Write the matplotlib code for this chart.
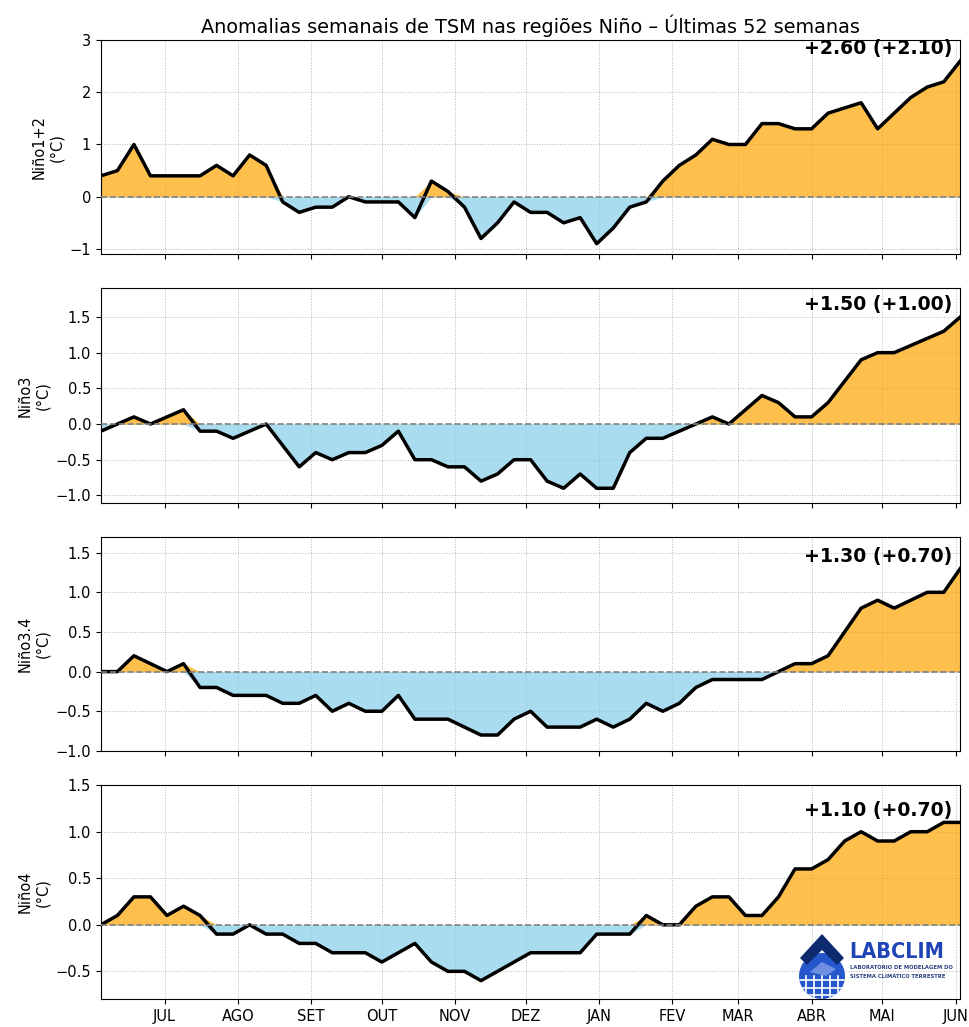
import numpy as np
import pandas as pd
import matplotlib
matplotlib.use("Agg")
import matplotlib.pyplot as plt
import matplotlib.dates as mdates
from matplotlib.ticker import FuncFormatter
from matplotlib.patches import Circle, Polygon

# Weekly SST anomalies (°C) for the Niño regions, last 52 weeks
weeks = pd.date_range("2022-06-04", periods=53, freq="7D")

nino12 = [0.4, 0.5, 1.0, 0.4, 0.4, 0.4, 0.4, 0.6, 0.4, 0.8,
          0.6, -0.1, -0.3, -0.2, -0.2, 0.0, -0.1, -0.1, -0.1, -0.4,
          0.3, 0.1, -0.2, -0.8, -0.5, -0.1, -0.3, -0.3, -0.5, -0.4,
          -0.9, -0.6, -0.2, -0.1, 0.3, 0.6, 0.8, 1.1, 1.0, 1.0,
          1.4, 1.4, 1.3, 1.3, 1.6, 1.7, 1.8, 1.3, 1.6, 1.9,
          2.1, 2.2, 2.6]
nino3 = [-0.1, 0.0, 0.1, 0.0, 0.1, 0.2, -0.1, -0.1, -0.2, -0.1,
         0.0, -0.3, -0.6, -0.4, -0.5, -0.4, -0.4, -0.3, -0.1, -0.5,
         -0.5, -0.6, -0.6, -0.8, -0.7, -0.5, -0.5, -0.8, -0.9, -0.7,
         -0.9, -0.9, -0.4, -0.2, -0.2, -0.1, 0.0, 0.1, 0.0, 0.2,
         0.4, 0.3, 0.1, 0.1, 0.3, 0.6, 0.9, 1.0, 1.0, 1.1,
         1.2, 1.3, 1.5]
nino34 = [0.0, 0.0, 0.2, 0.1, 0.0, 0.1, -0.2, -0.2, -0.3, -0.3,
          -0.3, -0.4, -0.4, -0.3, -0.5, -0.4, -0.5, -0.5, -0.3, -0.6,
          -0.6, -0.6, -0.7, -0.8, -0.8, -0.6, -0.5, -0.7, -0.7, -0.7,
          -0.6, -0.7, -0.6, -0.4, -0.5, -0.4, -0.2, -0.1, -0.1, -0.1,
          -0.1, 0.0, 0.1, 0.1, 0.2, 0.5, 0.8, 0.9, 0.8, 0.9,
          1.0, 1.0, 1.3]
nino4 = [0.0, 0.1, 0.3, 0.3, 0.1, 0.2, 0.1, -0.1, -0.1, 0.0,
         -0.1, -0.1, -0.2, -0.2, -0.3, -0.3, -0.3, -0.4, -0.3, -0.2,
         -0.4, -0.5, -0.5, -0.6, -0.5, -0.4, -0.3, -0.3, -0.3, -0.3,
         -0.1, -0.1, -0.1, 0.1, 0.0, 0.0, 0.2, 0.3, 0.3, 0.1,
         0.1, 0.3, 0.6, 0.6, 0.7, 0.9, 1.0, 0.9, 0.9, 1.0,
         1.0, 1.1, 1.1]

region_names = ["Niño1+2", "Niño3", "Niño3.4", "Niño4"]
series = [nino12, nino3, nino34, nino4]
reference_values = [2.10, 1.00, 0.70, 0.70]
month_labels = ["JAN", "FEV", "MAR", "ABR", "MAI", "JUN",
                "JUL", "AGO", "SET", "OUT", "NOV", "DEZ"]

title = "Anomalias semanais de TSM nas regiões Niño – Últimas 52 semanas"

fig = plt.figure(figsize=(9.7, 10.27), dpi=100)
axes = fig.subplots(4, 1, sharex=True)
fig.subplots_adjust(left=0.104, right=0.990, top=0.961, bottom=0.027, hspace=0.16)

for ax, name, vals, ref in zip(axes, region_names, series, reference_values):
    v = np.asarray(vals, dtype=float)
    ax.fill_between(weeks, 0, np.maximum(v, 0), color="orange", alpha=0.7, lw=0)
    ax.fill_between(weeks, 0, np.minimum(v, 0), color="skyblue", alpha=0.7, lw=0)
    ax.plot(weeks, v, color="black", lw=2.5, zorder=3)
    ax.axhline(0, color="gray", ls="--", lw=1.2, zorder=4)
    ax.grid(True, ls=":", lw=0.7, color="#b5b5b5")
    ax.set_axisbelow(True)
    ax.set_ylim(v.min() - 0.2, v.max() + 0.4)
    ax.set_xlim(weeks[0], weeks[-1])
    ax.set_ylabel(f"{name}\n(°C)", fontsize=10.5, labelpad=4)
    ax.tick_params(labelsize=10.5)
    ax.annotate(f"{v[-1]:+.2f} ({ref:+.2f})", xy=(weeks[-1], v[-1]),
                xytext=(-6, 2), textcoords="offset points",
                ha="right", va="bottom", fontsize=13.6, fontweight="bold", zorder=5)

axes[-1].xaxis.set_major_locator(mdates.MonthLocator())
axes[-1].xaxis.set_major_formatter(
    FuncFormatter(lambda x, pos: month_labels[mdates.num2date(x).month - 1]))

axes[0].set_title(title, fontsize=13.9, pad=5)

# LABCLIM logo in the lower-right corner
logo = fig.add_axes([0, 0, 1, 1], zorder=10)
logo.set_xlim(0, 970)
logo.set_ylim(1027, 0)
logo.axis("off")
logo.patch.set_alpha(0)

globe = Circle((822, 976), 23, facecolor="#2656cc", edgecolor="none")
logo.add_patch(globe)
for yy in (980, 988, 995):
    ln, = logo.plot([795, 850], [yy, yy], color="white", lw=1.2)
    ln.set_clip_path(globe)
for xx in (806, 814, 822, 830, 838):
    ln, = logo.plot([xx, xx], [976, 1002], color="white", lw=1.2)
    ln.set_clip_path(globe)
logo.add_patch(Polygon([(822, 934), (800, 958), (807, 965), (822, 950),
                        (837, 965), (844, 958)], closed=True,
                       facecolor="#0e2a6e", edgecolor="none"))
logo.add_patch(Polygon([(810, 972), (822, 962), (836, 969), (826, 976)],
                       closed=True, facecolor="#6f8fe0", edgecolor="none"))
logo.text(849, 958, "LABCLIM", fontsize=15.5, fontweight="bold",
          fontstretch="condensed", color="#1e44b5", va="baseline", ha="left")
logo.text(850, 969, "LABORATÓRIO DE MODELAGEM DO", fontsize=3.8,
          fontweight="bold", color="#2a3f82", va="baseline", ha="left")
logo.text(850, 978, "SISTEMA CLIMÁTICO TERRESTRE", fontsize=3.8,
          fontweight="bold", color="#2a3f82", va="baseline", ha="left")

fig.savefig("out.png", dpi=100)
